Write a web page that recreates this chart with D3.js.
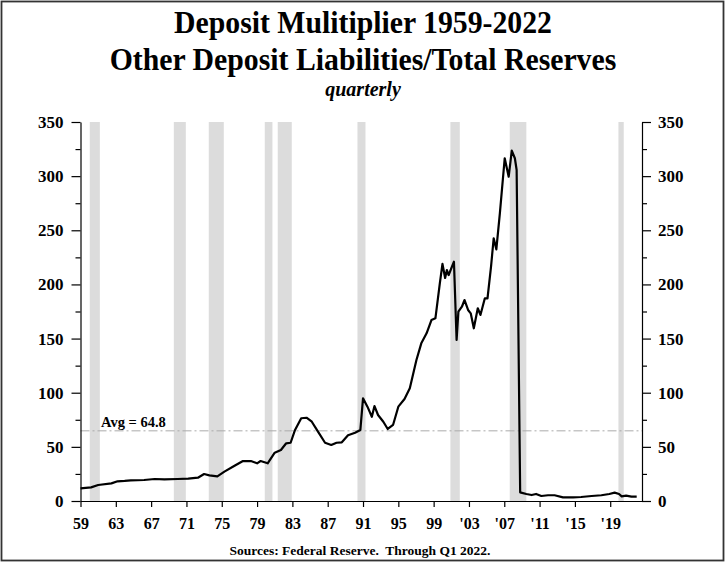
<!DOCTYPE html>
<html><head><meta charset="utf-8">
<script src="https://cdn.jsdelivr.net/npm/d3@7"></script>
<style>body{margin:0;background:#fff}svg{display:block}</style>
</head><body>
<svg id="c" width="727" height="564"></svg>
<script>
const titleLines = ["Deposit Mulitiplier 1959-2022", "Other Deposit Liabilities/Total Reserves"];
const subtitle = "quarterly";
const sourceText = "Sources: Federal Reserve.  Through Q1 2022.";
const avgValue = 64.8;
const avgLabel = "Avg = 64.8";

const years = [1959.0,1960.2,1961.0,1962.5,1963.2,1964.0,1964.7,1966.2,1967.4,1968.5,1970.0,1971.2,1972.3,1973.0,1973.6,1974.5,1975.3,1976.4,1977.4,1978.3,1979.0,1979.4,1980.2,1981.0,1981.7,1982.3,1982.8,1983.3,1984.0,1984.6,1985.2,1985.9,1986.7,1987.4,1988.0,1988.6,1989.3,1990.1,1990.7,1991.0,1991.5,1992.0,1992.3,1992.7,1993.3,1993.8,1994.4,1995.0,1995.7,1996.3,1997.05,1997.6,1998.2,1998.75,1999.2,1999.7,2000.0,2000.3,2000.5,2000.7,2001.3,2001.6,2001.8,2002.2,2002.5,2002.9,2003.2,2003.55,2004.0,2004.3,2004.8,2005.1,2005.5,2005.8,2006.1,2006.5,2007.05,2007.5,2007.85,2008.2,2008.4,2008.8,2009.5,2010.1,2010.6,2011.2,2011.95,2012.7,2013.65,2014.8,2015.7,2016.9,2018.0,2018.9,2019.5,2020.0,2020.3,2020.8,2021.4,2022.0];
const values = [11.7,12.6,14.8,16.3,18.2,18.6,19.1,19.4,20.3,20.0,20.3,20.6,21.5,24.9,23.7,22.8,27.1,32.3,36.9,36.9,34.8,36.9,34.8,44.6,47.1,53.3,53.8,65.6,76.4,76.9,73.2,64.0,53.8,51.7,53.8,54.2,60.7,63.1,65.6,94.8,87.1,77.8,87.7,79.4,73.2,66.5,70.2,87.1,94.2,104.1,130.2,145.6,154.9,167.1,168.7,201,219,206,213.3,208.7,221,148.7,174.8,179.4,185.6,176.4,173.3,159.5,178,171.8,187.2,187.2,216.4,242.6,232.4,265.7,316.5,299.5,323.5,316.5,305.7,8.0,6.5,5.5,6.5,4.6,5.3,5.3,3.4,3.4,3.7,4.6,5.3,6.5,7.7,6.5,4.3,4.9,4.0,4.0];

const recessionStarts = [1960.05,1969.57,1973.53,1979.87,1981.34,1990.37,2000.9,2007.62,2019.93];
const recessionEnds   = [1961.19,1970.93,1975.23,1980.74,1982.93,1991.28,2001.96,2009.5,2020.53];

const xTicks = [1959,1963,1967,1971,1975,1979,1983,1987,1991,1995,1999,2003,2007,2011,2015,2019];
const xTickLabels = ["59","63","67","71","75","79","83","87","91","95","99","'03","'07","'11","'15","'19"];
const yTicks = [0,50,100,150,200,250,300,350];
const yMinorTicks = [25,75,125,175,225,275,325];

const svg = d3.select("#c");
const L = 80.5, R = 642, T = 122, B = 501;
const x = d3.scaleLinear().domain([1959, 2022.6]).range([L, R]);
const y = d3.scaleLinear().domain([0, 350]).range([B, T]);
const serif = "'Liberation Serif','Times New Roman',serif";

// frame
svg.append("rect").attr("x",1.5).attr("y",1.5).attr("width",722).attr("height",559)
  .attr("fill","none").attr("stroke","#333").attr("stroke-width",1.8);

// titles (slightly condensed)
const tg = svg.append("g").attr("transform","translate(363,0) scale(0.93,1)");
tg.append("text").attr("x",0).attr("y",33).attr("text-anchor","middle")
  .style("font-family",serif).style("font-weight","bold").style("font-size","32px").text(titleLines[0]);
tg.append("text").attr("x",0).attr("y",70).attr("text-anchor","middle")
  .style("font-family",serif).style("font-weight","bold").style("font-size","32px").text(titleLines[1]);
svg.append("text").attr("x",363).attr("y",96).attr("text-anchor","middle")
  .style("font-family",serif).style("font-weight","bold").style("font-style","italic").style("font-size","20px").text(subtitle);

// recession bars
svg.append("g").selectAll("rect").data(recessionStarts).join("rect")
  .attr("x",(d)=>x(d)).attr("width",(d,i)=>x(recessionEnds[i])-x(d))
  .attr("y",T).attr("height",B-T).attr("fill","#dcdcdc");

// avg line
svg.append("line").attr("x1",L).attr("x2",R).attr("y1",y(avgValue)).attr("y2",y(avgValue))
  .attr("stroke","#aaa").attr("stroke-width",1).attr("stroke-dasharray","9,3,2,3");
svg.append("text").attr("x",101).attr("y",y(avgValue)-4)
  .style("font-family",serif).style("font-weight","bold").style("font-size","14.5px").text(avgLabel);

// series line
const line = d3.line().x((d,i)=>x(years[i])).y((d)=>y(d));
svg.append("path").datum(values).attr("d",line).attr("fill","none")
  .attr("stroke","#000").attr("stroke-width",2.2).attr("stroke-linejoin","round");

// axes
function styleAxis(g, fs){
  g.select(".domain").attr("stroke","#000").attr("stroke-width",1.2);
  g.selectAll(".tick line").attr("stroke","#000").attr("stroke-width",1.2);
  g.selectAll(".tick text").style("font-family",serif).style("font-weight","bold").style("font-size",fs).attr("fill","#000");
}
const yl = svg.append("g").attr("transform",`translate(${L},0)`)
  .call(d3.axisLeft(y).tickValues(yTicks).tickSize(9).tickPadding(8).tickSizeOuter(0).tickFormat(d3.format("d")));
styleAxis(yl,"17px");
svg.append("g").attr("transform",`translate(${L},0)`)
  .call(d3.axisLeft(y).tickValues(yMinorTicks).tickSize(5).tickSizeOuter(0).tickFormat(""))
  .call(g=>{g.select(".domain").remove(); g.selectAll("line").attr("stroke","#000").attr("stroke-width",1.2);});
const yr = svg.append("g").attr("transform",`translate(${R},0)`)
  .call(d3.axisRight(y).tickValues(yTicks).tickSize(9).tickPadding(7).tickSizeOuter(0).tickFormat(d3.format("d")));
styleAxis(yr,"17px");
svg.append("g").attr("transform",`translate(${R},0)`)
  .call(d3.axisRight(y).tickValues(yMinorTicks).tickSize(5).tickSizeOuter(0).tickFormat(""))
  .call(g=>{g.select(".domain").remove(); g.selectAll("line").attr("stroke","#000").attr("stroke-width",1.2);});
const xa = svg.append("g").attr("transform",`translate(0,${B})`)
  .call(d3.axisBottom(x).tickValues(xTicks).tickSize(6).tickPadding(11).tickSizeOuter(0).tickFormat((d,i)=>xTickLabels[i]));
styleAxis(xa,"16px");

// source
svg.append("text").attr("x",360).attr("y",555).attr("text-anchor","middle")
  .style("font-family",serif).style("font-weight","bold").style("font-size","13.5px").style("white-space","pre").text(sourceText);
</script>
</body></html>
